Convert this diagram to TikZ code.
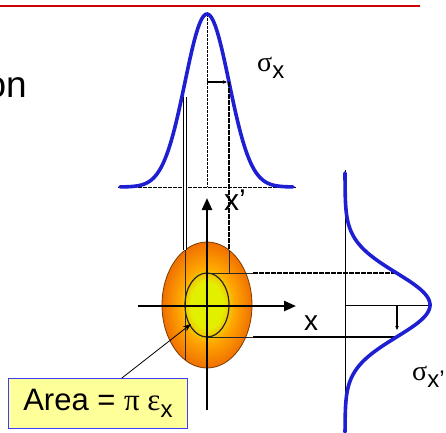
\documentclass[tikz,border=0pt]{standalone}
\usepackage{fontspec}
\setmainfont{Liberation Sans}
\newfontfamily\grk{Liberation Serif}
\usetikzlibrary{arrows.meta,positioning}
\definecolor{slidered}{HTML}{CC0000}
\definecolor{gaussblue}{HTML}{1E1ED2}
\definecolor{beamyel}{HTML}{E2F000}
\definecolor{beamorg}{HTML}{FFA800}
\definecolor{beamdark}{HTML}{F07000}
\definecolor{beamedge}{HTML}{7A3C00}
\definecolor{notefill}{HTML}{FFFF99}
\definecolor{noteedge}{HTML}{3C3CFF}
\pgfdeclareradialshading{beamshade}{\pgfpoint{0bp}{0bp}}{color(0bp)=(beamyel); color(9bp)=(beamyel); color(15bp)=(beamorg); color(25bp)=(beamdark); color(50bp)=(beamdark)}

\begin{document}
\begin{tikzpicture}[x=1pt,y=-1pt,
  gauss/.style={gaussblue,line width=3.6pt,line cap=round},
  axis/.style={line width=2.4pt,-{Triangle[length=12pt,width=10pt]}},
  guide/.style={line width=0.9pt,black!85},
  proj/.style={line width=1.8pt,dash pattern=on 5pt off 1pt},
  sig/.style={line width=1.2pt,-{Stealth[length=4pt,width=3.5pt]}},
  lbl/.style={font=\fontsize{28}{30}\selectfont,inner sep=0pt}]
  \clip (0,0) rectangle (446,432);
  % slide title remains
  \draw[slidered,line width=1.6pt] (0,6) -- (420,6);
  \node[anchor=base east,font=\fontsize{37}{40}\selectfont,inner sep=0pt] (title) at (27,97) {on};

  % phase space ellipse
  \coordinate (c) at (207,305);
  \shade[shading=beamshade] (c) ellipse [x radius=45,y radius=63];
  \draw[beamedge,line width=0.8pt] (c) ellipse [x radius=45,y radius=63];
  \draw[guide,line width=1.2pt] (c) ellipse [x radius=22,y radius=32];

  % top profile
  \draw[line width=0.9pt,dash pattern=on 4pt off 1pt] (118,187) -- (296,187);
  \draw[line width=0.9pt,dash pattern=on 3pt off 1pt] (207,14) -- (207,187);
  \draw[gauss] plot[domain=120:293,samples=90] (\x,{187-173*exp(-0.5*((\x-207)/22)^2)});
  \draw[sig] (207,82) -- (227,82);
  \draw[line width=0.8pt,double=white,double distance=1.6pt] (185,97) -- (185,250);
  \draw[proj] (229,82) -- (229,250);
  \draw[guide] (185,250) -- (185,360);
  \draw[guide] (229,250) -- (229,273);

  % right profile
  \draw[line width=0.9pt] (345,170) -- (345,432);
  \draw[guide] (207,273) -- (253,273);
  \draw[guide] (207,337) -- (253,337);
  \draw[proj] (253,273) -- (396,273);
  \draw[line width=2.4pt] (253,337) -- (396,337);
  \draw[line width=0.9pt] (345,305) -- (430,305);
  \draw[gauss] plot[domain=173:432,samples=110] ({345+85*exp(-0.5*((\x-305)/32)^2)},\x);
  \draw[sig] (397,305) -- (397,330);

  % axes
  \coordinate (xl) at (138,306);
  \coordinate (xr) at (296,306);
  \coordinate (yb) at (207,410);
  \coordinate (yt) at (207,198);
  \draw[axis] (xl) -- (xr);
  \draw[axis] (yb) -- (yt);

  % labels
  \node[lbl,anchor=base west] (sx) at (257,71) {{\grk σ}\raisebox{-7pt}{\fontsize{24}{24}\selectfont x}};
  \node[lbl,anchor=base west] (sxp) at (412,380) {{\grk σ}\raisebox{-7pt}{\fontsize{24}{24}\selectfont x'}};
  \node[lbl,anchor=base west,font=\fontsize{30}{32}\selectfont] (xp) at (224,210) {x'};
  \node[lbl,anchor=base west] (xx) at (304,330) {x};

  % area note
  \node[draw=noteedge,fill=notefill,line width=0.8pt,minimum width=179pt,minimum height=50pt,
    anchor=north west,inner sep=0pt,font=\fontsize{31}{33}\selectfont] (area) at (8,378)
    {Area = {\grk π ε}\raisebox{-7pt}{\fontsize{24}{24}\selectfont x}};
  \coordinate (tip) at (191,324);
  \draw[line width=0.8pt,-{Stealth[length=8pt,width=6pt]}] ([xshift=24pt]area.north) -- (tip);
\end{tikzpicture}
\end{document}
